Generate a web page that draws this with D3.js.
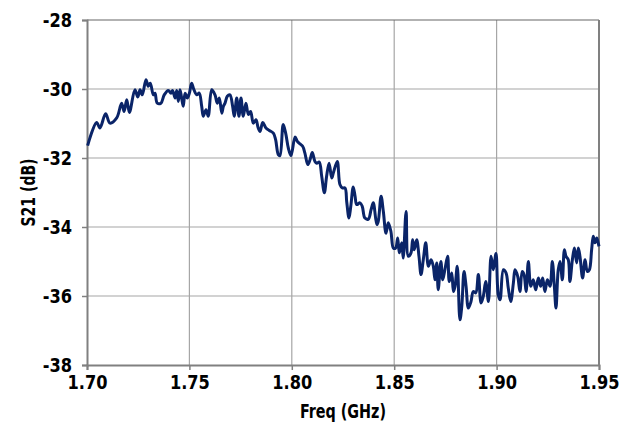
<!DOCTYPE html>
<html><head><meta charset="utf-8">
<script src="https://cdn.jsdelivr.net/npm/d3@7"></script>
<style>
body{margin:0;background:#fff;}
svg text{font-family:"Liberation Sans Narrow","DejaVu Sans Condensed","Arial Narrow",sans-serif;font-weight:bold;fill:#000;}
</style></head><body>
<svg id="c" width="628" height="429"></svg>
<script>
const xTicks = [1.70, 1.75, 1.80, 1.85, 1.90, 1.95];
const yTicks = [-38, -36, -34, -32, -30, -28];
const freq = [1.7003,1.7047,1.7063,1.7091,1.7112,1.7145,1.7169,1.7181,1.7194,1.7207,1.7234,1.7248,1.7259,1.7270,1.7288,1.7299,1.7309,1.7324,1.7332,1.7343,1.7361,1.7377,1.7397,1.7410,
1.7418,1.7430,1.7438,1.7446,1.7454,1.7462,1.7470,1.7479,1.7490,1.7500,1.7511,1.7522,1.7536,1.7548,1.7560,1.7568,1.7581,1.7592,1.7609,1.7625,1.7636,1.7646,1.7658,1.7666,1.7674,1.7685,1.7698,1.7711,1.7719,1.7731,1.7742,1.7752,1.7763,1.7776,1.7788,1.7799,1.7812,1.7825,1.7836,1.7845,
1.7858,1.7874,1.7890,1.7910,1.7921,1.7934,1.7942,1.7958,1.7970,1.7983,1.7996,1.8016,1.8027,1.8040,1.8053,1.8064,1.8078,1.8089,1.8100,1.8113,1.8122,1.8134,1.8146,1.8159,1.8170,1.8182,1.8195,1.8203,1.8222,1.8235,1.8247,1.8260,1.8268,1.8279,1.8288,1.8300,1.8309,
1.8317,1.8333,1.8344,1.8357,1.8374,1.8387,1.8398,1.8415,1.8422,1.8436,1.8447,1.8460,1.8471,1.8484,1.8496,1.8507,1.8517,1.8525,1.8537,1.8544,1.8558,1.8569,1.8582,1.8590,1.8598,1.8610,1.8621,1.8631,1.8642,1.8654,1.8667,1.8680,1.8691,1.8699,1.8708,1.8715,1.8728,1.8737,
1.8748,1.8761,1.8769,1.8781,1.8789,1.8797,1.8808,1.8821,1.8830,1.8841,1.8851,1.8862,1.8875,1.8886,1.8898,1.8911,1.8924,1.8935,1.8947,1.8960,1.8973,1.8984,1.8997,1.9008,1.9017,1.9033,1.9046,1.9057,1.9069,1.9082,1.9090,1.9103,1.9114,1.9125,
1.9134,1.9144,1.9155,1.9167,1.9179,1.9191,1.9204,1.9215,1.9225,1.9236,1.9248,1.9261,1.9272,1.9282,1.9290,1.9301,1.9310,1.9321,1.9331,1.9339,1.9350,1.9358,1.9370,1.9380,1.9391,1.9399,1.9407,1.9420,1.9432,1.9443,1.9453,1.9464,1.9472,1.9480,1.9489,1.9496,1.9500];
const s21 = [-31.64,-30.97,-31.13,-30.72,-30.99,-30.84,-30.41,-30.65,-30.31,-30.68,-30.02,-30.23,-30.02,-30.17,-29.73,-29.92,-29.83,-30.17,-30.12,-30.41,-30.41,-30.17,-30.04,-30.12,
-30.04,-30.26,-30.04,-30.36,-30.02,-30.26,-30.50,-30.12,-30.26,-30.12,-29.83,-30.02,-30.17,-30.12,-30.50,-30.79,-30.60,-30.79,-30.02,-30.17,-30.41,-30.26,-30.70,-30.50,-30.41,-30.21,-30.17,-30.50,-30.79,-30.26,-30.79,-30.26,-30.79,-30.41,-30.74,-30.65,-30.99,-30.89,-31.13,-31.23,
-30.97,-31.13,-31.20,-31.28,-31.47,-31.90,-31.93,-31.03,-31.28,-31.71,-31.93,-31.39,-31.52,-31.59,-31.66,-31.86,-32.19,-32.05,-31.84,-32.10,-32.15,-32.12,-32.53,-33.01,-32.53,-32.15,-32.58,-32.43,-32.10,-32.77,-32.87,-32.87,-33.26,-33.74,-33.40,-32.84,-33.11,
-33.35,-33.30,-33.40,-33.74,-33.77,-33.50,-33.30,-33.93,-33.84,-33.11,-33.55,-34.18,-33.88,-34.13,-34.61,-34.61,-34.32,-34.75,-34.46,-34.90,-33.55,-34.85,-34.75,-34.37,-34.66,-34.37,-34.85,-35.38,-34.95,-34.46,-35.14,-34.95,-35.14,-35.53,-35.04,-35.82,-35.00,-35.53,
-35.22,-34.85,-35.58,-35.33,-35.87,-35.72,-35.14,-36.69,-36.30,-35.29,-35.72,-36.35,-36.16,-35.87,-35.91,-35.38,-36.20,-36.01,-35.58,-36.16,-34.85,-35.24,-34.77,-35.96,-36.11,-35.24,-35.33,-35.77,-36.16,-35.62,-35.24,-35.43,-35.87,-35.29,
-35.38,-35.87,-35.00,-35.72,-35.53,-35.82,-35.48,-35.72,-35.48,-35.87,-35.53,-35.72,-35.00,-35.72,-36.35,-35.24,-35.00,-35.53,-34.66,-34.85,-34.95,-35.58,-34.95,-34.61,-35.04,-34.61,-34.85,-35.48,-34.95,-35.29,-35.24,-34.66,-34.27,-34.46,-34.32,-34.46,-34.56];

const W = 628, H = 429;
const m = {left: 87, right: 29, top: 20, bottom: 64};
const svg = d3.select("#c");
const x = d3.scaleLinear().domain([1.70, 1.95]).range([m.left, W - m.right]);
const y = d3.scaleLinear().domain([-38, -28]).range([H - m.bottom, m.top]);

// grid
svg.append("g").selectAll("line").data(xTicks.slice(1, -1)).join("line")
  .attr("x1", d => x(d)).attr("x2", d => x(d)).attr("y1", y(-28)).attr("y2", y(-38))
  .attr("stroke", "#a6a6a6").attr("stroke-width", 1.2);
svg.append("g").selectAll("line").data(yTicks.slice(1, -1)).join("line")
  .attr("x1", x(1.70)).attr("x2", x(1.95)).attr("y1", d => y(d)).attr("y2", d => y(d))
  .attr("stroke", "#a6a6a6").attr("stroke-width", 1.2);
// top & right border
svg.append("line").attr("x1", x(1.70)).attr("x2", x(1.95)).attr("y1", y(-28)).attr("y2", y(-28))
  .attr("stroke", "#666").attr("stroke-width", 1.2);
svg.append("line").attr("x1", x(1.95)).attr("x2", x(1.95)).attr("y1", y(-28)).attr("y2", y(-38))
  .attr("stroke", "#808080").attr("stroke-width", 2);

// axes
const xAxis = svg.append("g").attr("transform", `translate(0,${y(-38)})`)
  .call(d3.axisBottom(x).tickValues(xTicks).tickFormat(d3.format(".2f")).tickSize(5).tickPadding(5));
const yAxis = svg.append("g").attr("transform", `translate(${x(1.70)},0)`)
  .call(d3.axisLeft(y).tickValues(yTicks).tickFormat(d3.format("d")).tickSize(5).tickPadding(10));
[xAxis, yAxis].forEach(g => {
  g.select(".domain").attr("stroke", "#808080").attr("stroke-width", 2);
  g.selectAll(".tick line").attr("stroke", "#808080").attr("stroke-width", 1.5);
  g.selectAll("text").attr("font-size", 20).attr("fill", "#000")
    .style("font-family", '"Liberation Sans Narrow","DejaVu Sans Condensed",sans-serif').style("font-weight", "bold");
});
yAxis.selectAll("text").text(d => d < 0 ? "-" + Math.abs(d) : d);
// condense tick labels slightly
svg.selectAll(".tick text").each(function () {
  const len = this.getComputedTextLength();
  d3.select(this).attr("textLength", len * 0.9).attr("lengthAdjust", "spacingAndGlyphs");
});

// line
const line = d3.line().x((d, i) => x(freq[i])).y(d => y(d)).curve(d3.curveCatmullRom.alpha(0.5));
svg.append("path").datum(s21).attr("d", line)
  .attr("fill", "none").attr("stroke", "#0a2468").attr("stroke-width", 3)
  .attr("stroke-linejoin", "round");

// titles
svg.append("text").attr("x", (x(1.70) + x(1.95)) / 2).attr("y", 418)
  .attr("text-anchor", "middle").attr("font-size", 20)
  .attr("textLength", 86).attr("lengthAdjust", "spacingAndGlyphs").text("Freq (GHz)");
svg.append("text").attr("transform", `translate(35,${(y(-28) + y(-38)) / 2}) rotate(-90)`)
  .attr("text-anchor", "middle").attr("font-size", 20)
  .attr("textLength", 68).attr("lengthAdjust", "spacingAndGlyphs").text("S21 (dB)");
</script></body></html>
